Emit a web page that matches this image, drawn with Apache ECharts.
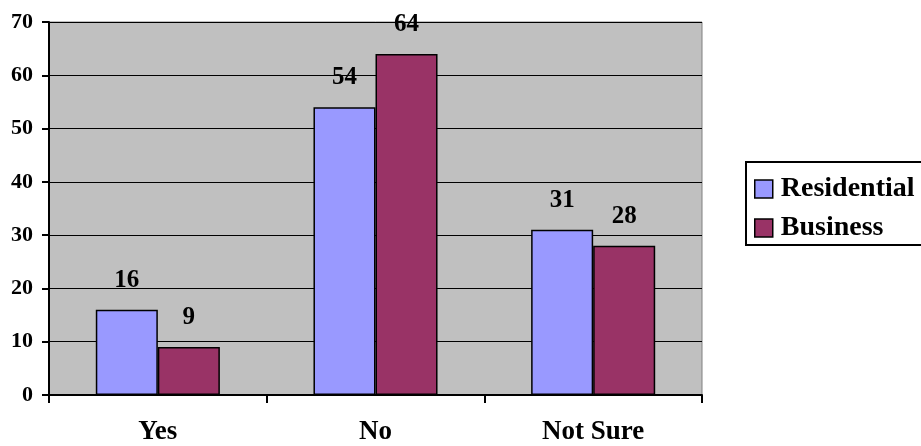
<!DOCTYPE html>
<html><head><meta charset="utf-8">
<script src="https://cdn.jsdelivr.net/npm/echarts@6/dist/echarts.min.js"></script>
<style>html,body{margin:0;padding:0;background:#fff}#c{width:921px;height:446px}</style>
</head><body><div id="c"></div>
<script>
const categories = ["Yes", "No", "Not Sure"];
const residential = [16, 54, 31];
const business = [9, 64, 28];
const seriesNames = ["Residential", "Business"];
const FONT = "Liberation Serif";
const chart = echarts.init(document.getElementById('c'), null, {renderer: 'canvas'});
const lbl = {show: true, position: 'top', distance: 17, color: '#000', fontFamily: FONT, fontWeight: 'bold', fontSize: 25};
chart.setOption({
  animation: false,
  grid: {left: 49, right: 219, top: 22, bottom: 49, show: true, backgroundColor: '#C0C0C0', borderColor: '#808080', borderWidth: 1},
  legend: {
    orient: 'vertical', left: 746, top: 162, padding: [13, 20, 3, 8],
    borderColor: '#000', borderWidth: 2, backgroundColor: '#fff',
    itemWidth: 18, itemHeight: 18, itemGap: 11, icon: 'rect',
    itemStyle: {borderColor: '#000', borderWidth: 1.5},
    textStyle: {fontFamily: FONT, fontWeight: 'bold', fontSize: 28, lineHeight: 20, color: '#000', padding: [0, 0, 0, 3]},
    data: seriesNames
  },
  xAxis: {
    type: 'category', data: categories,
    axisLine: {lineStyle: {color: '#000', width: 2}},
    axisTick: {show: true, alignWithLabel: false, length: 8, lineStyle: {color: '#000', width: 2}},
    axisLabel: {color: '#000', fontFamily: FONT, fontWeight: 'bold', fontSize: 27, lineHeight: 27, margin: 24}
  },
  yAxis: {
    type: 'value', min: 0, max: 70, interval: 10,
    axisLine: {show: true, lineStyle: {color: '#000', width: 2}},
    axisTick: {show: true, length: 7, lineStyle: {color: '#000', width: 2}},
    splitLine: {show: true, lineStyle: {color: '#000', width: 1.2}},
    axisLabel: {color: '#000', fontFamily: FONT, fontWeight: 'bold', fontSize: 22, margin: 16}
  },
  series: [
    {name: seriesNames[0], type: 'bar', data: residential, barGap: '0%', barCategoryGap: '43%',
     itemStyle: {color: '#9999FF', borderColor: '#000', borderWidth: 1.5}, label: lbl},
    {name: seriesNames[1], type: 'bar', data: business,
     itemStyle: {color: '#993366', borderColor: '#000', borderWidth: 1.5}, label: lbl}
  ]
});
</script></body></html>
